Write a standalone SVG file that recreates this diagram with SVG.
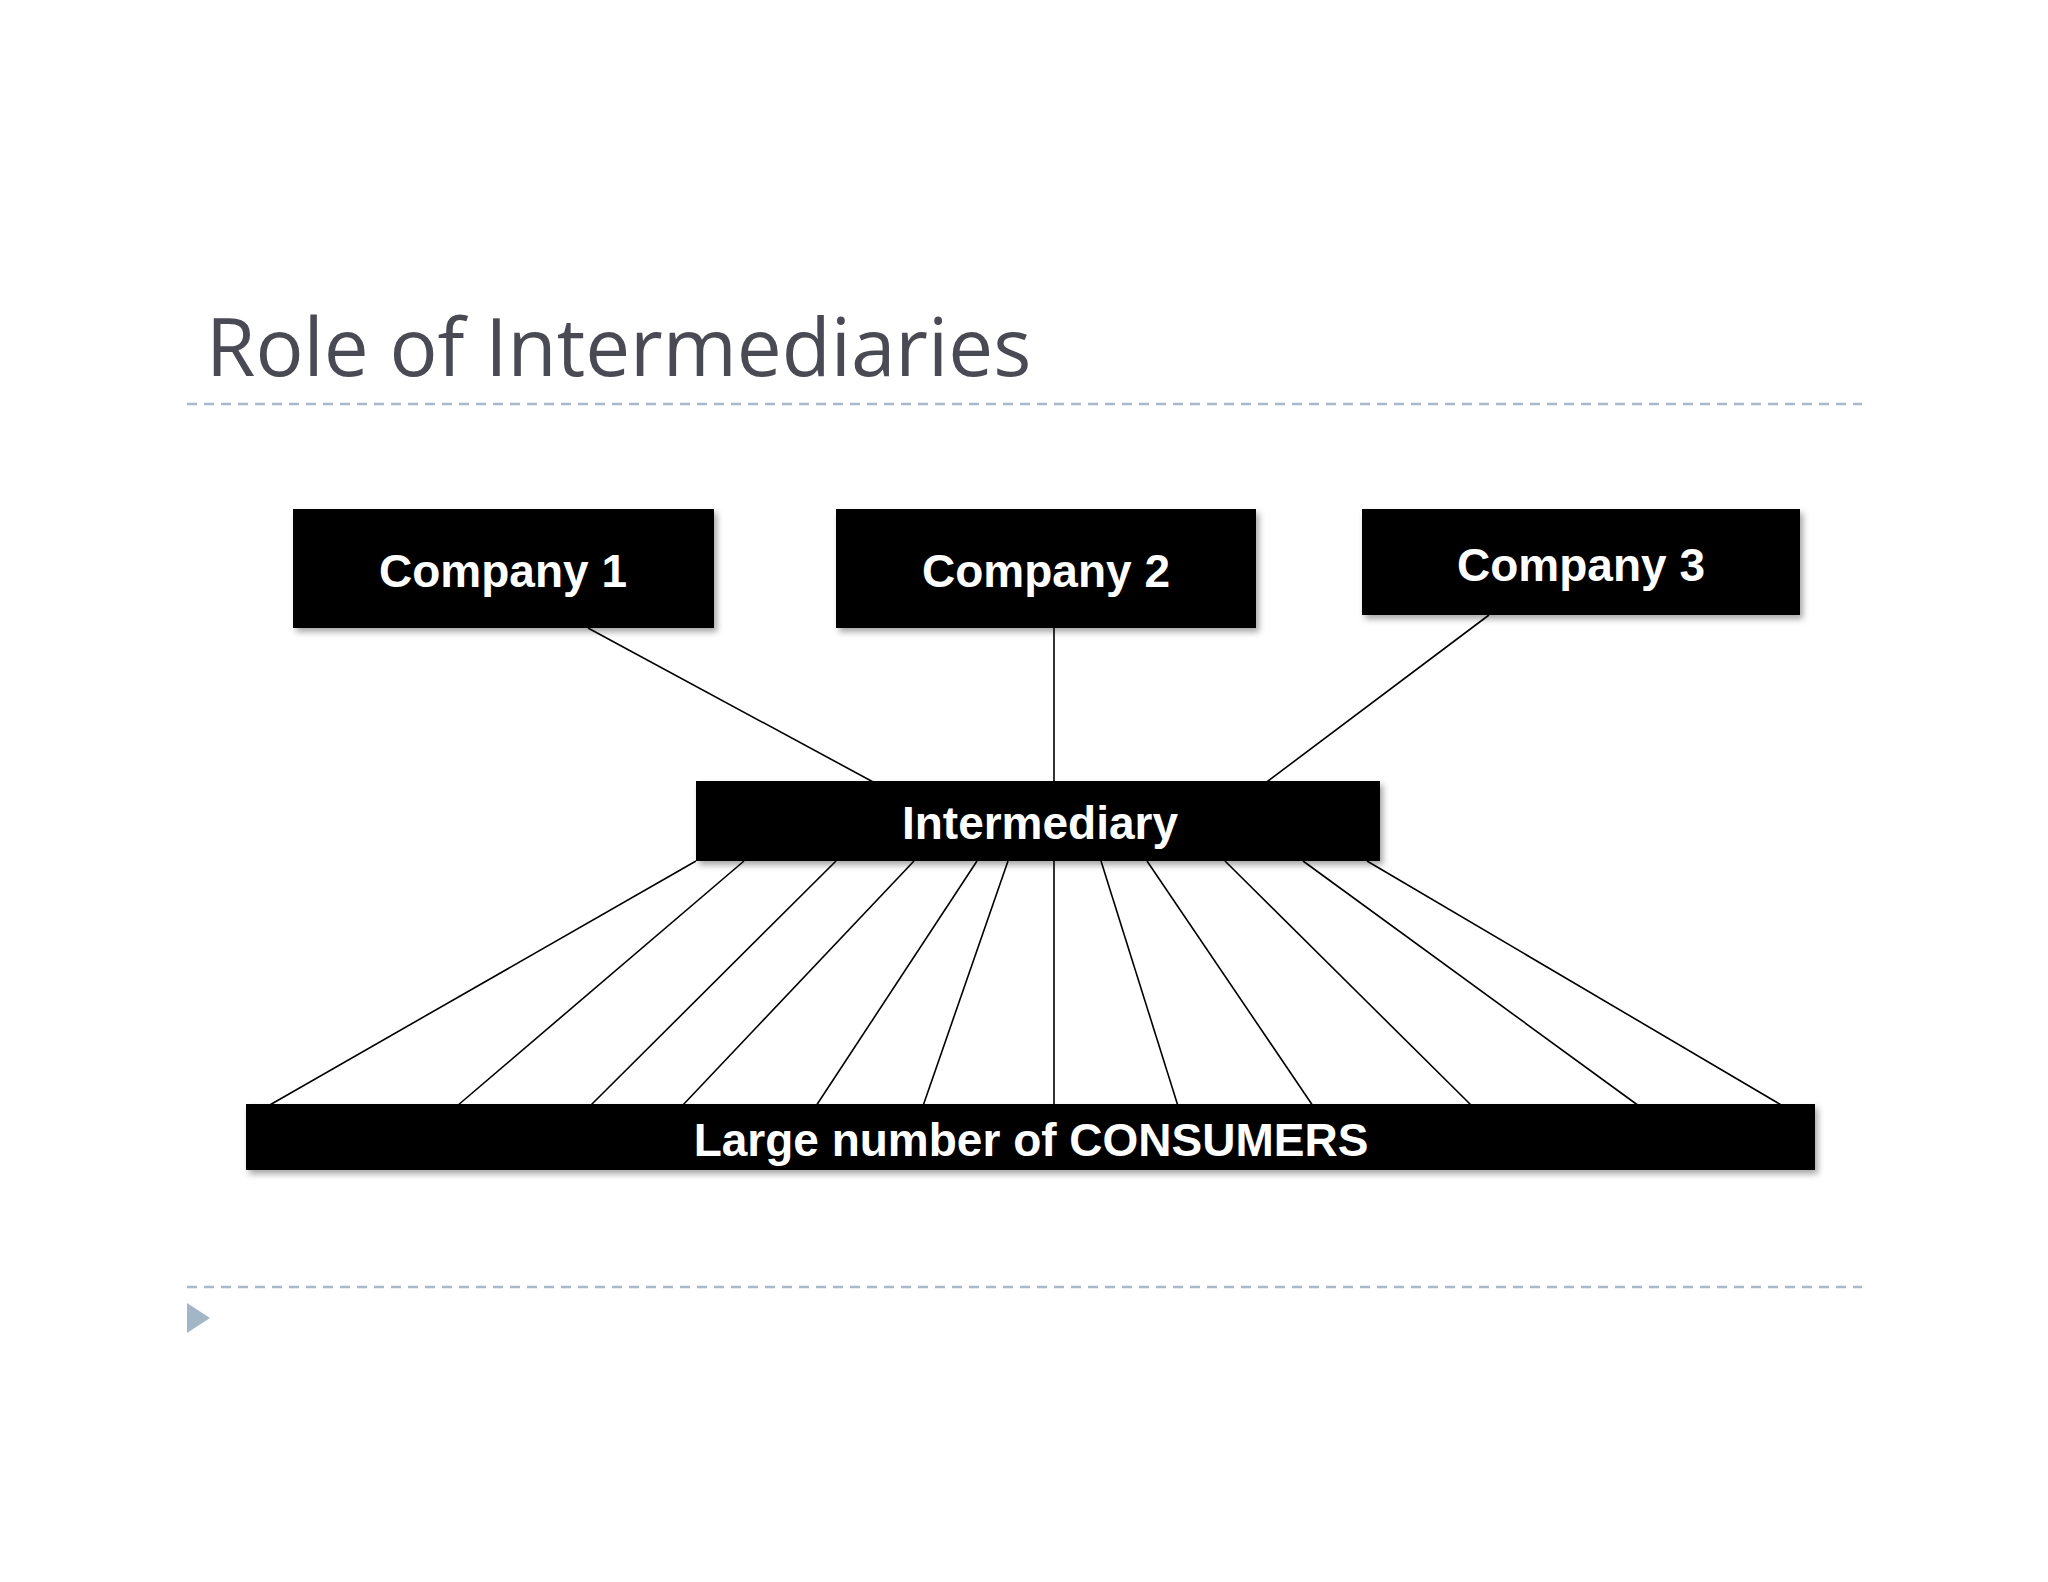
<svg xmlns="http://www.w3.org/2000/svg" width="2048" height="1582" viewBox="0 0 2048 1582">
<defs><style>
.box{fill:#000;filter:drop-shadow(3px 4px 3px rgba(0,0,0,0.35))}
.lbl{fill:#fff;font-family:"Liberation Sans",Arial,sans-serif;font-weight:bold;font-size:46px;text-anchor:middle}
.c line{stroke:#000;stroke-width:1.6}
.dash{stroke:#a9b9c9;stroke-width:2.5;stroke-dasharray:10 7}
</style></defs>
<rect width="2048" height="1582" fill="#fff"/>
<text x="206" y="376" font-family="'Open Sans',Lato,sans-serif" font-size="80" fill="#4a4a55">Role of Intermediaries</text>
<line class="dash" x1="187" y1="404" x2="1862" y2="404"/>
<line class="dash" x1="187" y1="1287" x2="1862" y2="1287"/>
<polygon points="187,1303 210,1318 187,1333" fill="#a3b6c8"/>
<g class="c">
<line x1="588" y1="628" x2="888" y2="790"/><line x1="1054" y1="628" x2="1054" y2="784"/><line x1="1489" y1="615" x2="1256" y2="790"/>
<line x1="696" y1="861" x2="268" y2="1106"/><line x1="744" y1="861" x2="457" y2="1106"/><line x1="836" y1="861" x2="590" y2="1106"/><line x1="914" y1="861" x2="682" y2="1106"/><line x1="977" y1="861" x2="816" y2="1106"/><line x1="1008" y1="861" x2="923" y2="1106"/><line x1="1054" y1="861" x2="1054" y2="1106"/><line x1="1101" y1="861" x2="1178" y2="1106"/><line x1="1147" y1="861" x2="1313" y2="1106"/><line x1="1225" y1="861" x2="1472" y2="1106"/><line x1="1303" y1="861" x2="1639" y2="1106"/><line x1="1367" y1="861" x2="1783" y2="1106"/>
</g>
<g id="company1"><rect class="box" x="293" y="509" width="421" height="119"/><text class="lbl" x="503" y="587">Company 1</text></g>
<g id="company2"><rect class="box" x="836" y="509" width="420" height="119"/><text class="lbl" x="1046" y="587">Company 2</text></g>
<g id="company3"><rect class="box" x="1362" y="509" width="438" height="106"/><text class="lbl" x="1581" y="581">Company 3</text></g>
<g id="intermediary"><rect class="box" x="696" y="781" width="684" height="80"/><text class="lbl" x="1040" y="839">Intermediary</text></g>
<g id="consumers"><rect class="box" x="246" y="1104" width="1569" height="66"/><text class="lbl" x="1031" y="1156">Large number of CONSUMERS</text></g>
</svg>
